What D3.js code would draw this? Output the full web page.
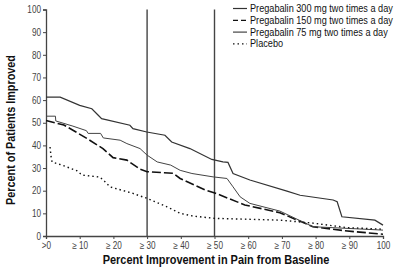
<!DOCTYPE html>
<html>
<head>
<meta charset="utf-8">
<script src="https://cdn.jsdelivr.net/npm/d3@7"></script>
<style>
  body { margin: 0; background: #fff; }
  text { font-family: "Liberation Sans", Arial, sans-serif; }
</style>
</head>
<body>
<div id="chart"></div>
<script>
// tick labels
var xTicks = [0, 10, 20, 30, 40, 50, 60, 70, 80, 90, 100];
var xTickLabels = [">0", "\u2265 10", "\u2265 20", "\u2265 30", "\u2265 40", "\u2265 50", "\u2265 60", "\u2265 70", "\u2265 80", "\u2265 90", "100"];
var yTicks = [0, 10, 20, 30, 40, 50, 60, 70, 80, 90, 100];
var markers = [30, 50];

var seriesNames = ["Pregabalin 300 mg two times a day", "Pregabalin 150 mg two times a day",
                   "Pregabalin 75 mg two times a day", "Placebo"];

// 300 mg
var x300 = [0, 4.2, 10, 13.6, 15.5, 16.5, 24.9, 25.8, 29.9, 35.3, 37.3, 42.7, 49.2, 52.5, 54, 55.5, 60.5, 71.5, 75.4, 85.2, 86.4, 87.8, 97.6, 100];
var y300 = [61.3, 61.3, 57.7, 56.2, 53.3, 51.8, 48.9, 47.4, 45.9, 44.5, 41.5, 38.6, 33.8, 32.7, 32.5, 27.6, 24.7, 19.8, 18, 15.9, 15.1, 8.5, 7, 4.8];
// 150 mg
var x150 = [0, 5.3, 8, 12.2, 16.9, 19.9, 24, 27.9, 30, 37.7, 39.8, 47.2, 50.1, 54, 59, 69.4, 79.2, 88.7, 100];
var y150 = [51, 49, 46.7, 43, 38.6, 34.6, 33.5, 29.5, 28.4, 27.7, 25.4, 20.3, 19, 16.7, 13.7, 10.3, 4.1, 2.3, 0.8];
// 75 mg
var x75 = [0, 2.8, 2.9, 8, 12, 12.5, 16.2, 17, 22, 24, 27.9, 30, 33, 37, 39.8, 43.3, 49.6, 53.7, 55.5, 57.6, 60.5, 69.4, 79.2, 100];
var y75 = [52.9, 52.9, 50.8, 48.5, 46.5, 45.3, 45.3, 43.3, 42.3, 40.8, 38.6, 35.7, 32.7, 31.3, 29, 27.6, 26.1, 25.4, 21.7, 17.3, 14.4, 11, 4.1, 2.6];
// placebo
var xPl = [1.2, 1.5, 1.8, 4.7, 9.2, 10.7, 16, 17.5, 19, 25.8, 30, 35.9, 39.8, 43.6, 50, 69.4, 79.2, 89.3, 100];
var yPl = [39.3, 35, 32.7, 31.3, 28.8, 26.9, 26, 24, 21.7, 18.8, 16.6, 12.9, 10, 8.8, 7.8, 7, 5.7, 3.7, 3];

var W = 400, H = 269;
var svg = d3.select("#chart").append("svg")
  .attr("width", W).attr("height", H);

var x = d3.scaleLinear().domain([0, 100]).range([46, 383]);
var y = d3.scaleLinear().domain([0, 100]).range([236, 9.5]);

// the reference uses a condensed face; squeeze the text horizontally
var narrow = 0.82;

// axes
var xAxis = d3.axisBottom(x).tickValues(xTicks).tickSize(3)
  .tickFormat(function(d, i){ return xTickLabels[i]; });
var yAxis = d3.axisLeft(y).tickValues(yTicks).tickSize(3);

var gx = svg.append("g").attr("transform", "translate(0," + y(0) + ")").call(xAxis);
var gy = svg.append("g").attr("transform", "translate(" + x(0) + ",0)").call(yAxis);
[gx, gy].forEach(function(g){
  g.select(".domain").attr("stroke", "#444").attr("stroke-width", 1.3);
  g.selectAll(".tick line").attr("stroke", "#444");
  g.selectAll(".tick text").attr("fill", "#444").style("font-size", "10px");
});
gx.selectAll(".tick text").attr("y", 0).attr("dy", 0)
  .attr("transform", "translate(0,13) scale(" + narrow + ",1)");
gy.selectAll(".tick text").attr("x", 0).attr("dy", "0.32em")
  .attr("transform", "translate(-5,0) scale(" + narrow + ",1)");

// reference lines at 30 and 50
svg.selectAll(".marker").data(markers).enter().append("line")
  .attr("class", "marker")
  .attr("x1", function(d){ return x(d); }).attr("x2", function(d){ return x(d); })
  .attr("y1", y(100)).attr("y2", y(0))
  .attr("stroke", "#444").attr("stroke-width", 1.4);

function pts(xs, ys){ return xs.map(function(v, i){ return [v, ys[i]]; }); }
var line = d3.line().x(function(d){ return x(d[0]); }).y(function(d){ return y(d[1]); });

var styles = [
  {data: pts(x300, y300), color: "#333", width: 1.2, dash: null},
  {data: pts(x150, y150), color: "#111", width: 1.6, dash: "9,3"},
  {data: pts(x75, y75), color: "#444", width: 1.0, dash: null},
  {data: pts(xPl, yPl), color: "#111", width: 1.4, dash: "1.5,3"}
];

svg.selectAll(".series").data(styles).enter().append("path")
  .attr("class", "series")
  .attr("d", function(d){ return line(d.data); })
  .attr("fill", "none")
  .attr("stroke", function(d){ return d.color; })
  .attr("stroke-width", function(d){ return d.width; })
  .attr("stroke-dasharray", function(d){ return d.dash; });

// legend
var legend = svg.selectAll(".legend").data(seriesNames).enter().append("g")
  .attr("class", "legend")
  .attr("transform", function(d, i){ return "translate(233," + (12 + i * 11.8) + ")"; });
legend.append("line")
  .attr("x1", 0).attr("x2", 14).attr("y1", -3.5).attr("y2", -3.5)
  .attr("stroke", function(d, i){ return styles[i].color; })
  .attr("stroke-width", 1.2)
  .attr("stroke-dasharray", function(d, i){ return i == 1 ? "5,3" : (i == 3 ? "1.5,3" : null); });
var legText = legend.append("text")
  .style("font-size", "11px").attr("fill", "#111")
  .text(function(d){ return d; });
var k = 143 / legText.node().getComputedTextLength();
legText.attr("transform", "translate(17,0) scale(" + k + ",1)");

// axis titles
var xt = svg.append("text")
  .attr("text-anchor", "middle")
  .style("font-size", "12.5px").style("font-weight", "bold").attr("fill", "#111")
  .text("Percent Improvement in Pain from Baseline");
var kx = 227 / xt.node().getComputedTextLength();
xt.attr("transform", "translate(216,264) scale(" + kx + ",1)");

var yt = svg.append("text")
  .attr("text-anchor", "middle")
  .style("font-size", "12.5px").style("font-weight", "bold").attr("fill", "#111")
  .text("Percent of Patients Improved");
var ky = 150 / yt.node().getComputedTextLength();
yt.attr("transform", "translate(15,130) rotate(-90) scale(" + ky + ",1)");
</script>
</body>
</html>
